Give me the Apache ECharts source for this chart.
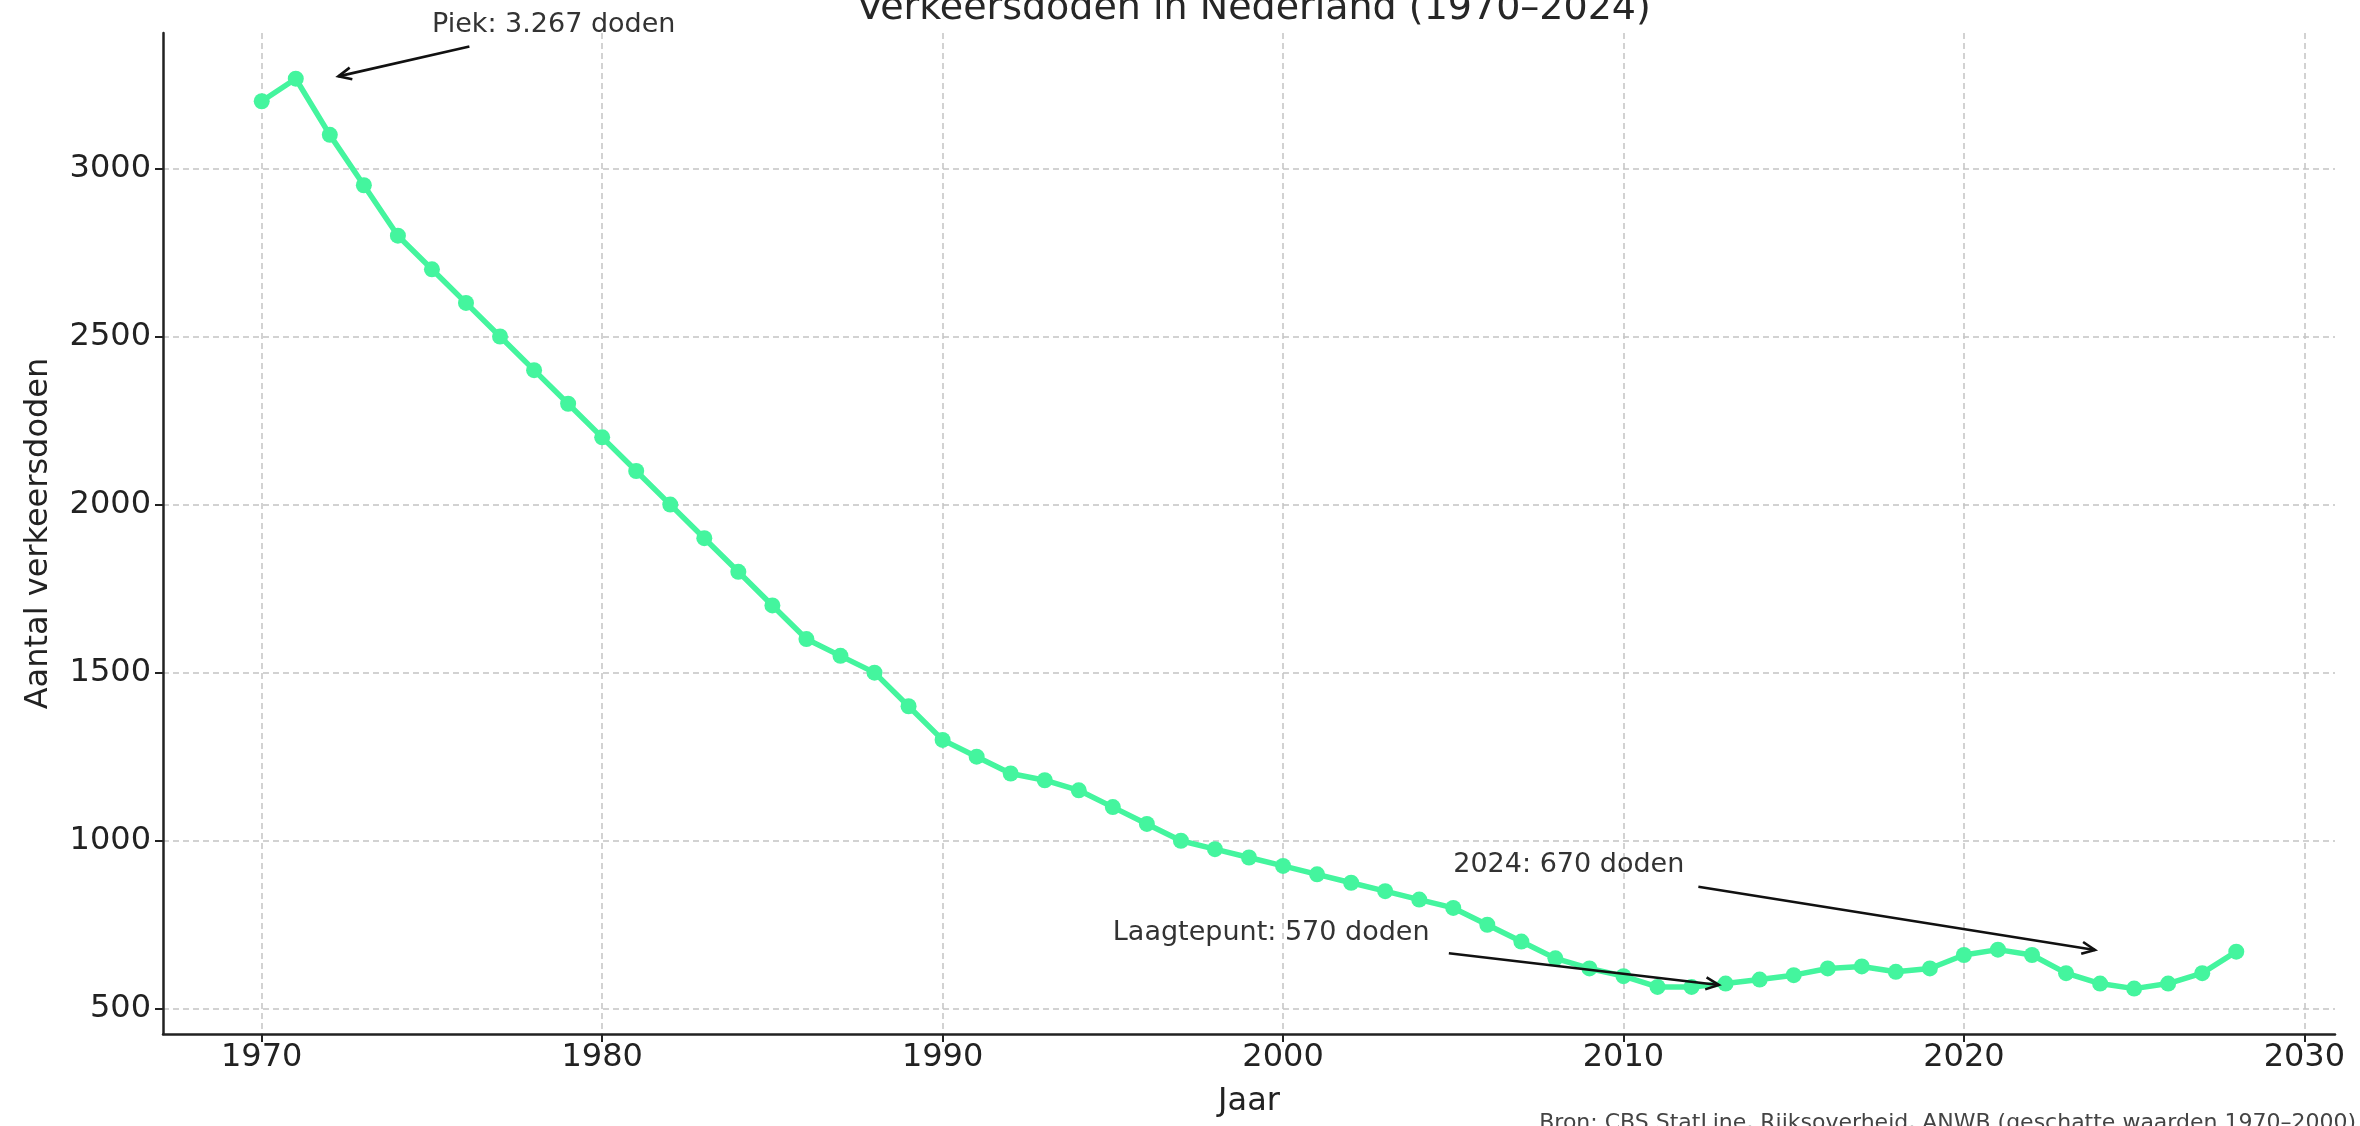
<!DOCTYPE html>
<html lang="nl">
<head>
<meta charset="UTF-8">
<title>Verkeersdoden in Nederland</title>
<script src="https://cdn.jsdelivr.net/npm/echarts@6/dist/echarts.min.js"></script>
<style>
  html, body { margin: 0; padding: 0; background: #fff; }
  #main { width: 2360px; height: 1126px; }
</style>
</head>
<body>
<div id="main"></div>
<script type="text/javascript">
// jaren en aantallen zoals
var years = [1970, 1971, 1972, 1973, 1974, 1975, 1976, 1977, 1978, 1979,
             1980, 1981, 1982, 1983, 1984, 1985, 1986, 1987, 1988, 1989,
             1990, 1991, 1992, 1993, 1994, 1995, 1996, 1997, 1998, 1999,
             2000, 2001, 2002, 2003, 2004, 2005, 2006, 2007, 2008, 2009,
             2010, 2011, 2012, 2013, 2014, 2015, 2016, 2017, 2018, 2019,
             2020, 2021, 2022, 2023, 2024, 2025, 2026, 2027, 2028];
var deaths = [3200, 3267, 3100, 2950, 2800, 2700, 2600, 2500, 2400, 2300,
              2200, 2100, 2000, 1900, 1800, 1700, 1600, 1550, 1500, 1400,
              1300, 1250, 1200, 1180, 1150, 1100, 1050, 1000, 975, 950,
              925, 900, 875, 850, 825, 800, 750, 700, 650, 620,
              597, 565, 565, 575, 587, 600, 620, 626, 610, 620,
              660, 676, 660, 606, 575, 560, 575, 606, 670];

// as-ticks
var xTicks = [1970, 1980, 1990, 2000, 2010, 2020, 2030];
var yTicks = [500, 1000, 1500, 2000, 2500, 3000];

// annotaties: tekst, tekstpositie, pijl begin en pijlpunt (in data-eenheden)
var annoTexts = ['Piek: 3.267 doden', 'Laagtepunt: 570 doden', '2024: 670 doden'];
var annoTextAt = [[1975, 3400], [1995, 700], [2005, 900]];
var annoTail = [[1976.1, 3363], [2004.87, 665], [2012.2, 863]];
var annoHead = [[1972.25, 3274], [2012.8, 571], [2023.85, 675]];

var font = 'DejaVu Sans';
var lineColor = '#44f59e';

var myChart = echarts.init(document.getElementById('main'));

var points = years.map(function (y, i) { return [y, deaths[i]]; });
var annoData = annoTexts.map(function (t, i) {
    return [annoTail[i][0], annoTail[i][1], annoHead[i][0], annoHead[i][1],
            annoTextAt[i][0], annoTextAt[i][1], i];
});

function renderArrow(params, api) {
    var p0 = api.coord([api.value(0), api.value(1)]);
    var p1 = api.coord([api.value(2), api.value(3)]);
    var pt = api.coord([api.value(4), api.value(5)]);
    var idx = api.value(6);
    var dx = p1[0] - p0[0], dy = p1[1] - p0[1];
    var len = Math.sqrt(dx * dx + dy * dy);
    var ux = dx / len, uy = dy / len;
    var hl = 13, hw = 6;
    var bx = p1[0] - ux * hl, by = p1[1] - uy * hl;
    return {
        type: 'group',
        children: [
            {
                type: 'line',
                shape: { x1: p0[0], y1: p0[1], x2: p1[0], y2: p1[1] },
                style: { stroke: '#111', lineWidth: 2.6 }
            },
            {
                type: 'polyline',
                shape: { points: [[bx - uy * hw, by + ux * hw], p1, [bx + uy * hw, by - ux * hw]] },
                style: { stroke: '#111', lineWidth: 2.6, fill: null }
            },
            {
                type: 'text',
                x: pt[0],
                y: pt[1] - 9,
                style: {
                    text: annoTexts[idx],
                    font: '27px "' + font + '"',
                    fill: '#333',
                    align: 'left',
                    verticalAlign: 'middle'
                }
            }
        ]
    };
}

option = {
    backgroundColor: '#fff',
    animation: false,
    textStyle: { fontFamily: font },
    title: {
        text: 'Verkeersdoden in Nederland (1970–2024)',
        left: 1249,
        textAlign: 'center',
        top: -15,
        textStyle: { fontFamily: font, fontSize: 38, fontWeight: 'normal', color: '#262626' }
    },
    graphic: [{
        type: 'text',
        right: 4,
        top: 1112,
        style: {
            text: 'Bron: CBS StatLine, Rijksoverheid, ANWB (geschatte waarden 1970–2000)',
            font: '22px "' + font + '"',
            fill: '#444'
        }
    }],
    grid: { left: 163, right: 25, top: 33, bottom: 92, outerBoundsMode: 'none', containLabel: false },
    xAxis: {
        type: 'value',
        min: 1967.1,
        max: 2030.9,
        name: 'Jaar',
        nameLocation: 'middle',
        nameGap: 52,
        nameTextStyle: { fontFamily: font, fontSize: 32, color: '#222' },
        axisLine: { lineStyle: { color: '#222', width: 2.5 } },
        axisTick: { customValues: xTicks, length: 8, lineStyle: { color: '#222', width: 2 } },
        axisLabel: {
            customValues: xTicks,
            margin: 8,
            fontFamily: font, fontSize: 32, color: '#222',
            formatter: function (v) { return String(v); }
        },
        splitLine: { show: true, lineStyle: { color: '#c4c4c4', width: 1.5, type: [6, 4] } }
    },
    yAxis: {
        type: 'value',
        min: 425,
        max: 3403,
        name: 'Aantal verkeersdoden',
        nameLocation: 'middle',
        nameGap: 108,
        nameTextStyle: { fontFamily: font, fontSize: 32, color: '#222' },
        axisLine: { show: true, lineStyle: { color: '#222', width: 2.5 } },
        axisTick: { show: true, customValues: yTicks, length: 8, lineStyle: { color: '#222', width: 2 } },
        axisLabel: {
            customValues: yTicks,
            margin: 12,
            fontFamily: font, fontSize: 32, color: '#222',
            formatter: function (v) { return String(v); }
        },
        splitLine: { show: true, lineStyle: { color: '#c4c4c4', width: 1.5, type: [6, 4] } }
    },
    series: [
        {
            name: 'Verkeersdoden',
            type: 'line',
            data: points,
            symbol: 'circle',
            symbolSize: 16,
            showAllSymbol: true,
            lineStyle: { color: lineColor, width: 5.5 },
            itemStyle: { color: lineColor },
            z: 3
        },
        {
            type: 'custom',
            renderItem: renderArrow,
            data: annoData,
            clip: false,
            silent: true,
            z: 5
        }
    ]
};
myChart.setOption(option);
</script>
</body>
</html>
